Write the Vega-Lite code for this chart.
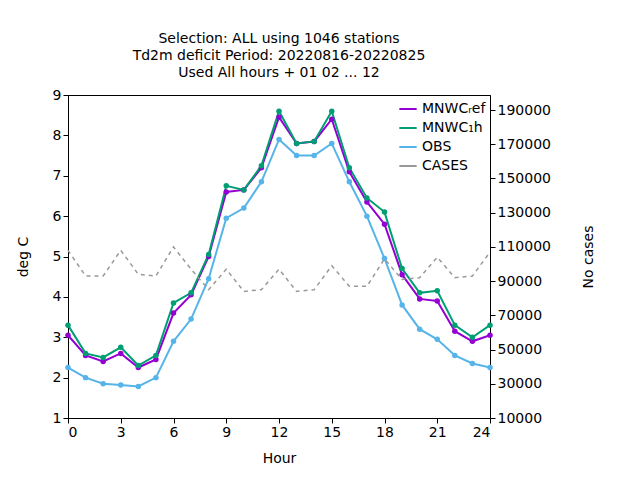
{
  "$schema": "https://vega.github.io/schema/vega-lite/v6.json",
  "width": 422,
  "height": 323,
  "autosize": "none",
  "padding": {"left": 68, "top": 95, "right": 150, "bottom": 62},
  "title": {
    "text": ["Selection: ALL using  1046 stations", "Td2m deficit   Period: 20220816-20220825", "Used  All hours + 01 02 ... 12"],
    "font": "DejaVu Sans", "fontSize": 14, "fontWeight": "normal", "lineHeight": 17, "offset": 8, "anchor": "middle"
  },
  "config": {
    "font": "DejaVu Sans",
    "view": {"stroke": "black", "strokeWidth": 1},
    "axis": {"grid": false, "labelFont": "DejaVu Sans", "labelFontSize": 14, "titleFont": "DejaVu Sans", "titleFontSize": 14, "titleFontWeight": "normal", "tickDirection": "inward", "domainColor": "black", "tickColor": "black", "labelColor": "black"}
  },
  "datasets": {
    "d": [
      {"hour":0,"series":"MNWCᵣef","v":3.05},{"hour":1,"series":"MNWCᵣef","v":2.55},{"hour":2,"series":"MNWCᵣef","v":2.4},{"hour":3,"series":"MNWCᵣef","v":2.6},{"hour":4,"series":"MNWCᵣef","v":2.25},{"hour":5,"series":"MNWCᵣef","v":2.45},{"hour":6,"series":"MNWCᵣef","v":3.6},{"hour":7,"series":"MNWCᵣef","v":4.05},{"hour":8,"series":"MNWCᵣef","v":5.0},{"hour":9,"series":"MNWCᵣef","v":6.6},{"hour":10,"series":"MNWCᵣef","v":6.65},{"hour":11,"series":"MNWCᵣef","v":7.2},{"hour":12,"series":"MNWCᵣef","v":8.45},{"hour":13,"series":"MNWCᵣef","v":7.8},{"hour":14,"series":"MNWCᵣef","v":7.85},{"hour":15,"series":"MNWCᵣef","v":8.4},{"hour":16,"series":"MNWCᵣef","v":7.1},{"hour":17,"series":"MNWCᵣef","v":6.35},{"hour":18,"series":"MNWCᵣef","v":5.8},{"hour":19,"series":"MNWCᵣef","v":4.55},{"hour":20,"series":"MNWCᵣef","v":3.95},{"hour":21,"series":"MNWCᵣef","v":3.9},{"hour":22,"series":"MNWCᵣef","v":3.15},{"hour":23,"series":"MNWCᵣef","v":2.9},{"hour":24,"series":"MNWCᵣef","v":3.05},
      {"hour":0,"series":"MNWC₁h","v":3.3},{"hour":1,"series":"MNWC₁h","v":2.6},{"hour":2,"series":"MNWC₁h","v":2.5},{"hour":3,"series":"MNWC₁h","v":2.75},{"hour":4,"series":"MNWC₁h","v":2.3},{"hour":5,"series":"MNWC₁h","v":2.55},{"hour":6,"series":"MNWC₁h","v":3.85},{"hour":7,"series":"MNWC₁h","v":4.1},{"hour":8,"series":"MNWC₁h","v":5.05},{"hour":9,"series":"MNWC₁h","v":6.75},{"hour":10,"series":"MNWC₁h","v":6.65},{"hour":11,"series":"MNWC₁h","v":7.25},{"hour":12,"series":"MNWC₁h","v":8.6},{"hour":13,"series":"MNWC₁h","v":7.8},{"hour":14,"series":"MNWC₁h","v":7.85},{"hour":15,"series":"MNWC₁h","v":8.6},{"hour":16,"series":"MNWC₁h","v":7.2},{"hour":17,"series":"MNWC₁h","v":6.45},{"hour":18,"series":"MNWC₁h","v":6.1},{"hour":19,"series":"MNWC₁h","v":4.7},{"hour":20,"series":"MNWC₁h","v":4.1},{"hour":21,"series":"MNWC₁h","v":4.15},{"hour":22,"series":"MNWC₁h","v":3.3},{"hour":23,"series":"MNWC₁h","v":3.0},{"hour":24,"series":"MNWC₁h","v":3.3},
      {"hour":0,"series":"OBS","v":2.25},{"hour":1,"series":"OBS","v":2.0},{"hour":2,"series":"OBS","v":1.85},{"hour":3,"series":"OBS","v":1.82},{"hour":4,"series":"OBS","v":1.78},{"hour":5,"series":"OBS","v":2.0},{"hour":6,"series":"OBS","v":2.9},{"hour":7,"series":"OBS","v":3.45},{"hour":8,"series":"OBS","v":4.45},{"hour":9,"series":"OBS","v":5.95},{"hour":10,"series":"OBS","v":6.2},{"hour":11,"series":"OBS","v":6.85},{"hour":12,"series":"OBS","v":7.9},{"hour":13,"series":"OBS","v":7.5},{"hour":14,"series":"OBS","v":7.5},{"hour":15,"series":"OBS","v":7.8},{"hour":16,"series":"OBS","v":6.85},{"hour":17,"series":"OBS","v":6.0},{"hour":18,"series":"OBS","v":4.95},{"hour":19,"series":"OBS","v":3.8},{"hour":20,"series":"OBS","v":3.2},{"hour":21,"series":"OBS","v":2.95},{"hour":22,"series":"OBS","v":2.55},{"hour":23,"series":"OBS","v":2.35},{"hour":24,"series":"OBS","v":2.25},
      {"hour":0,"series":"CASES","v":108000},{"hour":1,"series":"CASES","v":93000},{"hour":2,"series":"CASES","v":93000},{"hour":3,"series":"CASES","v":108000},{"hour":4,"series":"CASES","v":94000},{"hour":5,"series":"CASES","v":93000},{"hour":6,"series":"CASES","v":110000},{"hour":7,"series":"CASES","v":97000},{"hour":8,"series":"CASES","v":85000},{"hour":9,"series":"CASES","v":97000},{"hour":10,"series":"CASES","v":84000},{"hour":11,"series":"CASES","v":85000},{"hour":12,"series":"CASES","v":97000},{"hour":13,"series":"CASES","v":84000},{"hour":14,"series":"CASES","v":85000},{"hour":15,"series":"CASES","v":99000},{"hour":16,"series":"CASES","v":87000},{"hour":17,"series":"CASES","v":87000},{"hour":18,"series":"CASES","v":103000},{"hour":19,"series":"CASES","v":91000},{"hour":20,"series":"CASES","v":92000},{"hour":21,"series":"CASES","v":104000},{"hour":22,"series":"CASES","v":92000},{"hour":23,"series":"CASES","v":93000},{"hour":24,"series":"CASES","v":107000}
    ]
  },
  "data": {"name": "d"},
  "encoding": {
    "x": {"field": "hour", "type": "quantitative", "scale": {"domain": [0, 24], "nice": false}, "axis": {"values": [0,3,6,9,12,15,18,21,24], "title": "Hour", "titlePadding": 12}},
    "color": {"field": "series", "type": "nominal", "scale": {"domain": ["MNWCᵣef","MNWC₁h","OBS","CASES"], "range": ["#9400d3","#009e73","#56b4e9","#999999"]},
      "legend": {"orient": "top-right", "title": null, "labelFontSize": 14, "symbolType": "stroke", "symbolStrokeWidth": 2, "rowPadding": 2, "symbolSize": 300, "offset": 4}}
  },
  "layer": [
    {
      "transform": [{"filter": "datum.series !== 'CASES'"}],
      "mark": {"type": "line", "strokeWidth": 2, "point": {"filled": true, "size": 30}},
      "encoding": {"y": {"field": "v", "type": "quantitative", "scale": {"domain": [1, 9], "nice": false}, "axis": {"tickCount": 8, "title": "deg C", "titlePadding": 22}}}
    },
    {
      "transform": [{"filter": "datum.series === 'CASES'"}],
      "mark": {"type": "line", "strokeWidth": 1.5, "strokeDash": [4, 4]},
      "encoding": {"y": {"field": "v", "type": "quantitative", "scale": {"domain": [10000, 198800], "nice": false}, "axis": {"orient": "right", "format": "d", "values": [10000,30000,50000,70000,90000,110000,130000,150000,170000,190000], "title": "No cases", "titleAngle": 270, "titlePadding": 45}}}
    }
  ],
  "resolve": {"scale": {"y": "independent"}}
}
